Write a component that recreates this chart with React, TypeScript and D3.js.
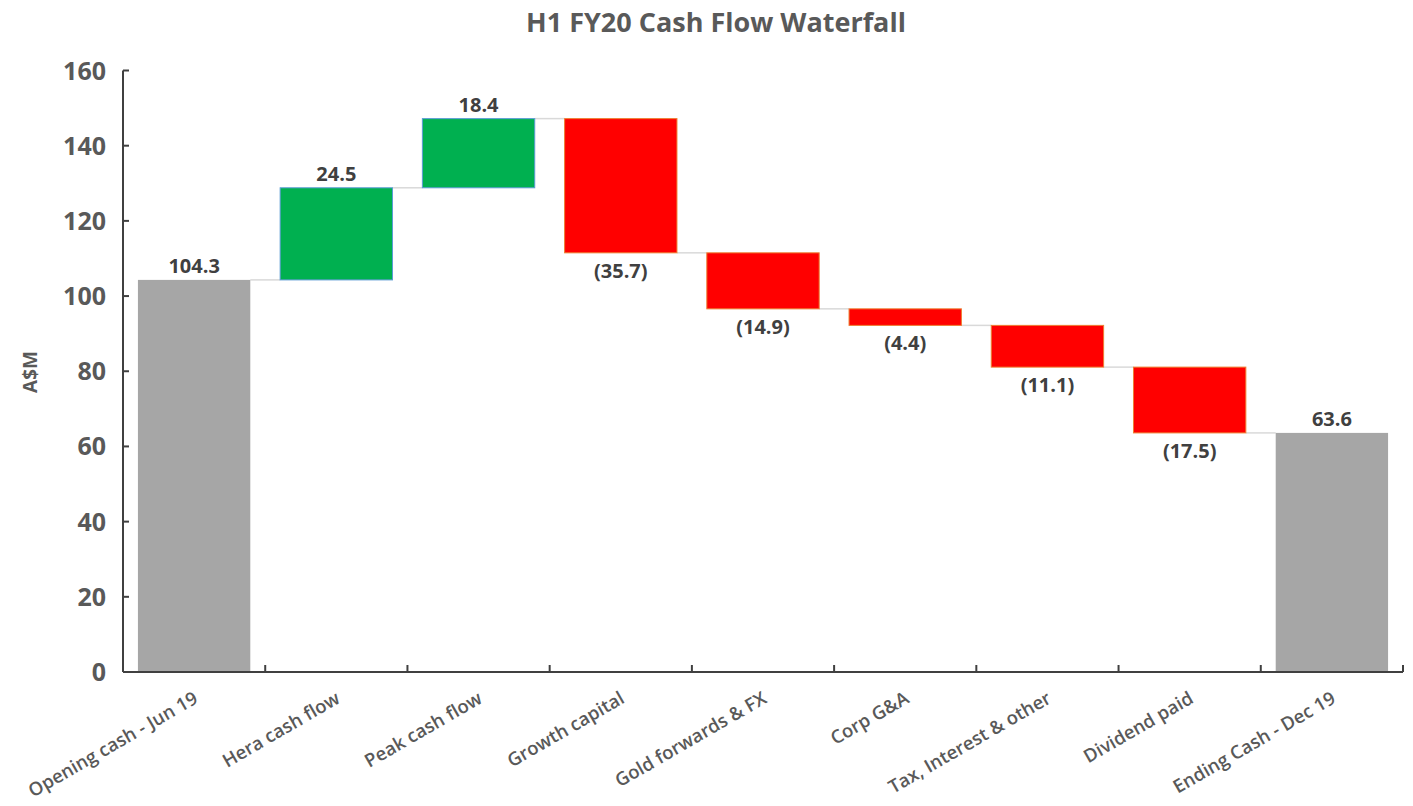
import React from "react";
import * as d3 from "d3";

const categories = [
  "Opening cash - Jun 19",
  "Hera cash flow",
  "Peak cash flow",
  "Growth capital",
  "Gold forwards & FX",
  "Corp G&A",
  "Tax, Interest & other",
  "Dividend paid",
  "Ending Cash - Dec 19",
];
const values = [104.3, 24.5, 18.4, -35.7, -14.9, -4.4, -11.1, -17.5, 63.6];
const kinds = ["total", "delta", "delta", "delta", "delta", "delta", "delta", "delta", "total"];
const yTicks = [0, 20, 40, 60, 80, 100, 120, 140, 160];

const W = 1413;
const H = 806;
const FONT = "'Open Sans', 'Noto Sans', sans-serif";

export default function App() {
  const left = 123, right = 1403, top = 70.5, bottom = 672;
  const x = d3.scaleBand<string>().domain(categories).range([left, right]).paddingInner(0.21).paddingOuter(0.105);
  const y = d3.scaleLinear().domain([0, 160]).range([bottom, top]);

  let run = 0;
  const bars = categories.map((c, i) => {
    const v = values[i];
    let y0: number, y1: number;
    if (kinds[i] === "total") {
      y0 = 0; y1 = v; run = v;
    } else {
      y0 = run; y1 = run + v; run = y1;
    }
    return { c, v, y0, y1, kind: kinds[i], end: y1 };
  });

  const step = x.step();
  const bw = x.bandwidth();
  const fmt = (v: number) => (v < 0 ? `(${Math.abs(v).toFixed(1)})` : v.toFixed(1));

  return (
    <svg width={W} height={H} style={{ display: "block", position: "absolute", left: 0, top: 0 }}>
      <rect width={W} height={H} fill="#ffffff" />
      <text x={716} y={32} textAnchor="middle" fontFamily={FONT} fontWeight={700} fontSize={27} fill="#595959">
        H1 FY20 Cash Flow Waterfall
      </text>
      {/* connectors */}
      {bars.slice(0, -1).map((b, i) => {
        const x1 = (x(b.c) as number) + bw;
        const x2 = x(categories[i + 1]) as number;
        const yy = y(b.end);
        return <line key={"c" + i} x1={x1} x2={x2} y1={yy} y2={yy} stroke="#d9d9d9" strokeWidth={1.5} />;
      })}
      {/* bars */}
      {bars.map((b, i) => {
        const lo = Math.min(b.y0, b.y1), hi = Math.max(b.y0, b.y1);
        const fill = b.kind === "total" ? "#a6a6a6" : b.v >= 0 ? "#00b050" : "#ff0000";
        const stroke = b.kind === "total" ? "none" : b.v >= 0 ? "#5b9bd5" : "#ed7d31";
        return (
          <rect key={"b" + i} x={x(b.c)} width={bw} y={y(hi)} height={y(lo) - y(hi)} fill={fill} stroke={stroke} strokeWidth={1} />
        );
      })}
      {/* labels */}
      {bars.map((b, i) => {
        const cx = (x(b.c) as number) + bw / 2;
        const hi = Math.max(b.y0, b.y1), lo = Math.min(b.y0, b.y1);
        const yy = b.v >= 0 ? y(hi) - 7 : y(lo) + 25;
        return (
          <text key={"l" + i} x={cx} y={yy} textAnchor="middle" fontFamily={FONT} fontWeight={700} fontSize={20} fill="#404040">
            {fmt(b.v)}
          </text>
        );
      })}
      {/* y axis */}
      <line x1={left} x2={left} y1={top} y2={bottom} stroke="#404040" strokeWidth={2} />
      {yTicks.map((t) => (
        <g key={"yt" + t}>
          <line x1={left} x2={left + 6} y1={y(t)} y2={y(t)} stroke="#404040" strokeWidth={2} />
          <text x={106} y={y(t) + 9} textAnchor="end" fontFamily={FONT} fontWeight={700} fontSize={25} fill="#595959">
            {t}
          </text>
        </g>
      ))}
      <text transform={`translate(37,372) rotate(-90)`} textAnchor="middle" fontFamily={FONT} fontWeight={700} fontSize={19} fill="#595959">
        A$M
      </text>
      {/* x axis */}
      <line x1={left} x2={right} y1={bottom} y2={bottom} stroke="#404040" strokeWidth={2} />
      {categories.map((c, i) => {
        const xb = left + step * (i + 1);
        return <line key={"xt" + i} x1={xb} x2={xb} y1={bottom} y2={bottom - 7} stroke="#404040" strokeWidth={2} />;
      })}
      {categories.map((c, i) => {
        const cx = (x(c) as number) + bw / 2;
        return (
          <text key={"xl" + i} transform={`translate(${cx + 5},${bottom + 30}) rotate(-30)`} textAnchor="end" fontFamily={FONT} fontWeight={600} fontSize={18.5} fill="#595959">
            {c}
          </text>
        );
      })}
    </svg>
  );
}
